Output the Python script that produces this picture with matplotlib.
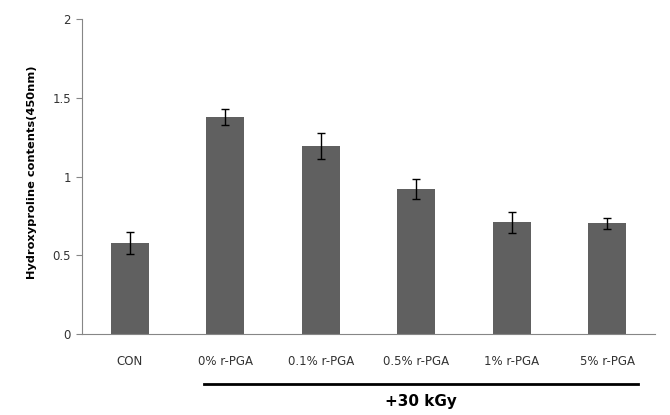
import numpy as np
import matplotlib.pyplot as plt

# data
categories = ["CON", "0% r-PGA", "0.1% r-PGA", "0.5% r-PGA", "1% r-PGA", "5% r-PGA"]
values = [0.58, 1.38, 1.195, 0.92, 0.71, 0.705]
errors = [0.07, 0.05, 0.083, 0.064, 0.065, 0.035]
yticks = [0, 0.5, 1, 1.5, 2]
ytick_labels = ["0", "0.5", "1", "1.5", "2"]

fig = plt.figure(figsize=(6.7, 4.15), dpi=100)
ax = fig.add_axes([82 / 670, 1 - 334 / 415, (655 - 82) / 670, (334 - 19.3) / 415])

x = np.arange(len(categories))
ax.bar(x, values, width=0.4, color="#606060", zorder=2)
ax.errorbar(x, values, yerr=errors, fmt="none", ecolor="black",
            elinewidth=1, capsize=3, capthick=1, zorder=3)

ax.set_xlim(-0.5, len(categories) - 0.5)
ax.set_ylim(0, 2)
ax.set_yticks(yticks)
ax.set_yticklabels(ytick_labels)
ax.set_xticks(x)
ax.set_xticklabels(categories)

for side in ["top", "right"]:
    ax.spines[side].set_visible(False)
for side in ["left", "bottom"]:
    ax.spines[side].set_color("#868686")
ax.tick_params(axis="y", length=4, color="#868686", labelsize=8.5, pad=4,
               labelcolor="#333333")
ax.tick_params(axis="x", length=0, labelsize=8.5, pad=15, labelcolor="#333333")

fig.text(32 / 670, 1 - 172 / 415, "Hydroxyproline contents(450nm)", rotation=90,
         ha="center", va="center", fontsize=8.2, fontweight="bold")

# group line and label under the irradiated samples
ax.plot([0.78, 5.32], [-0.32, -0.32], color="black", lw=2, clip_on=False)
ax.text(3.05, -0.43, "+30 kGy", ha="center", va="center", fontsize=11,
        fontweight="bold")

fig.savefig("out.png", dpi=100)
